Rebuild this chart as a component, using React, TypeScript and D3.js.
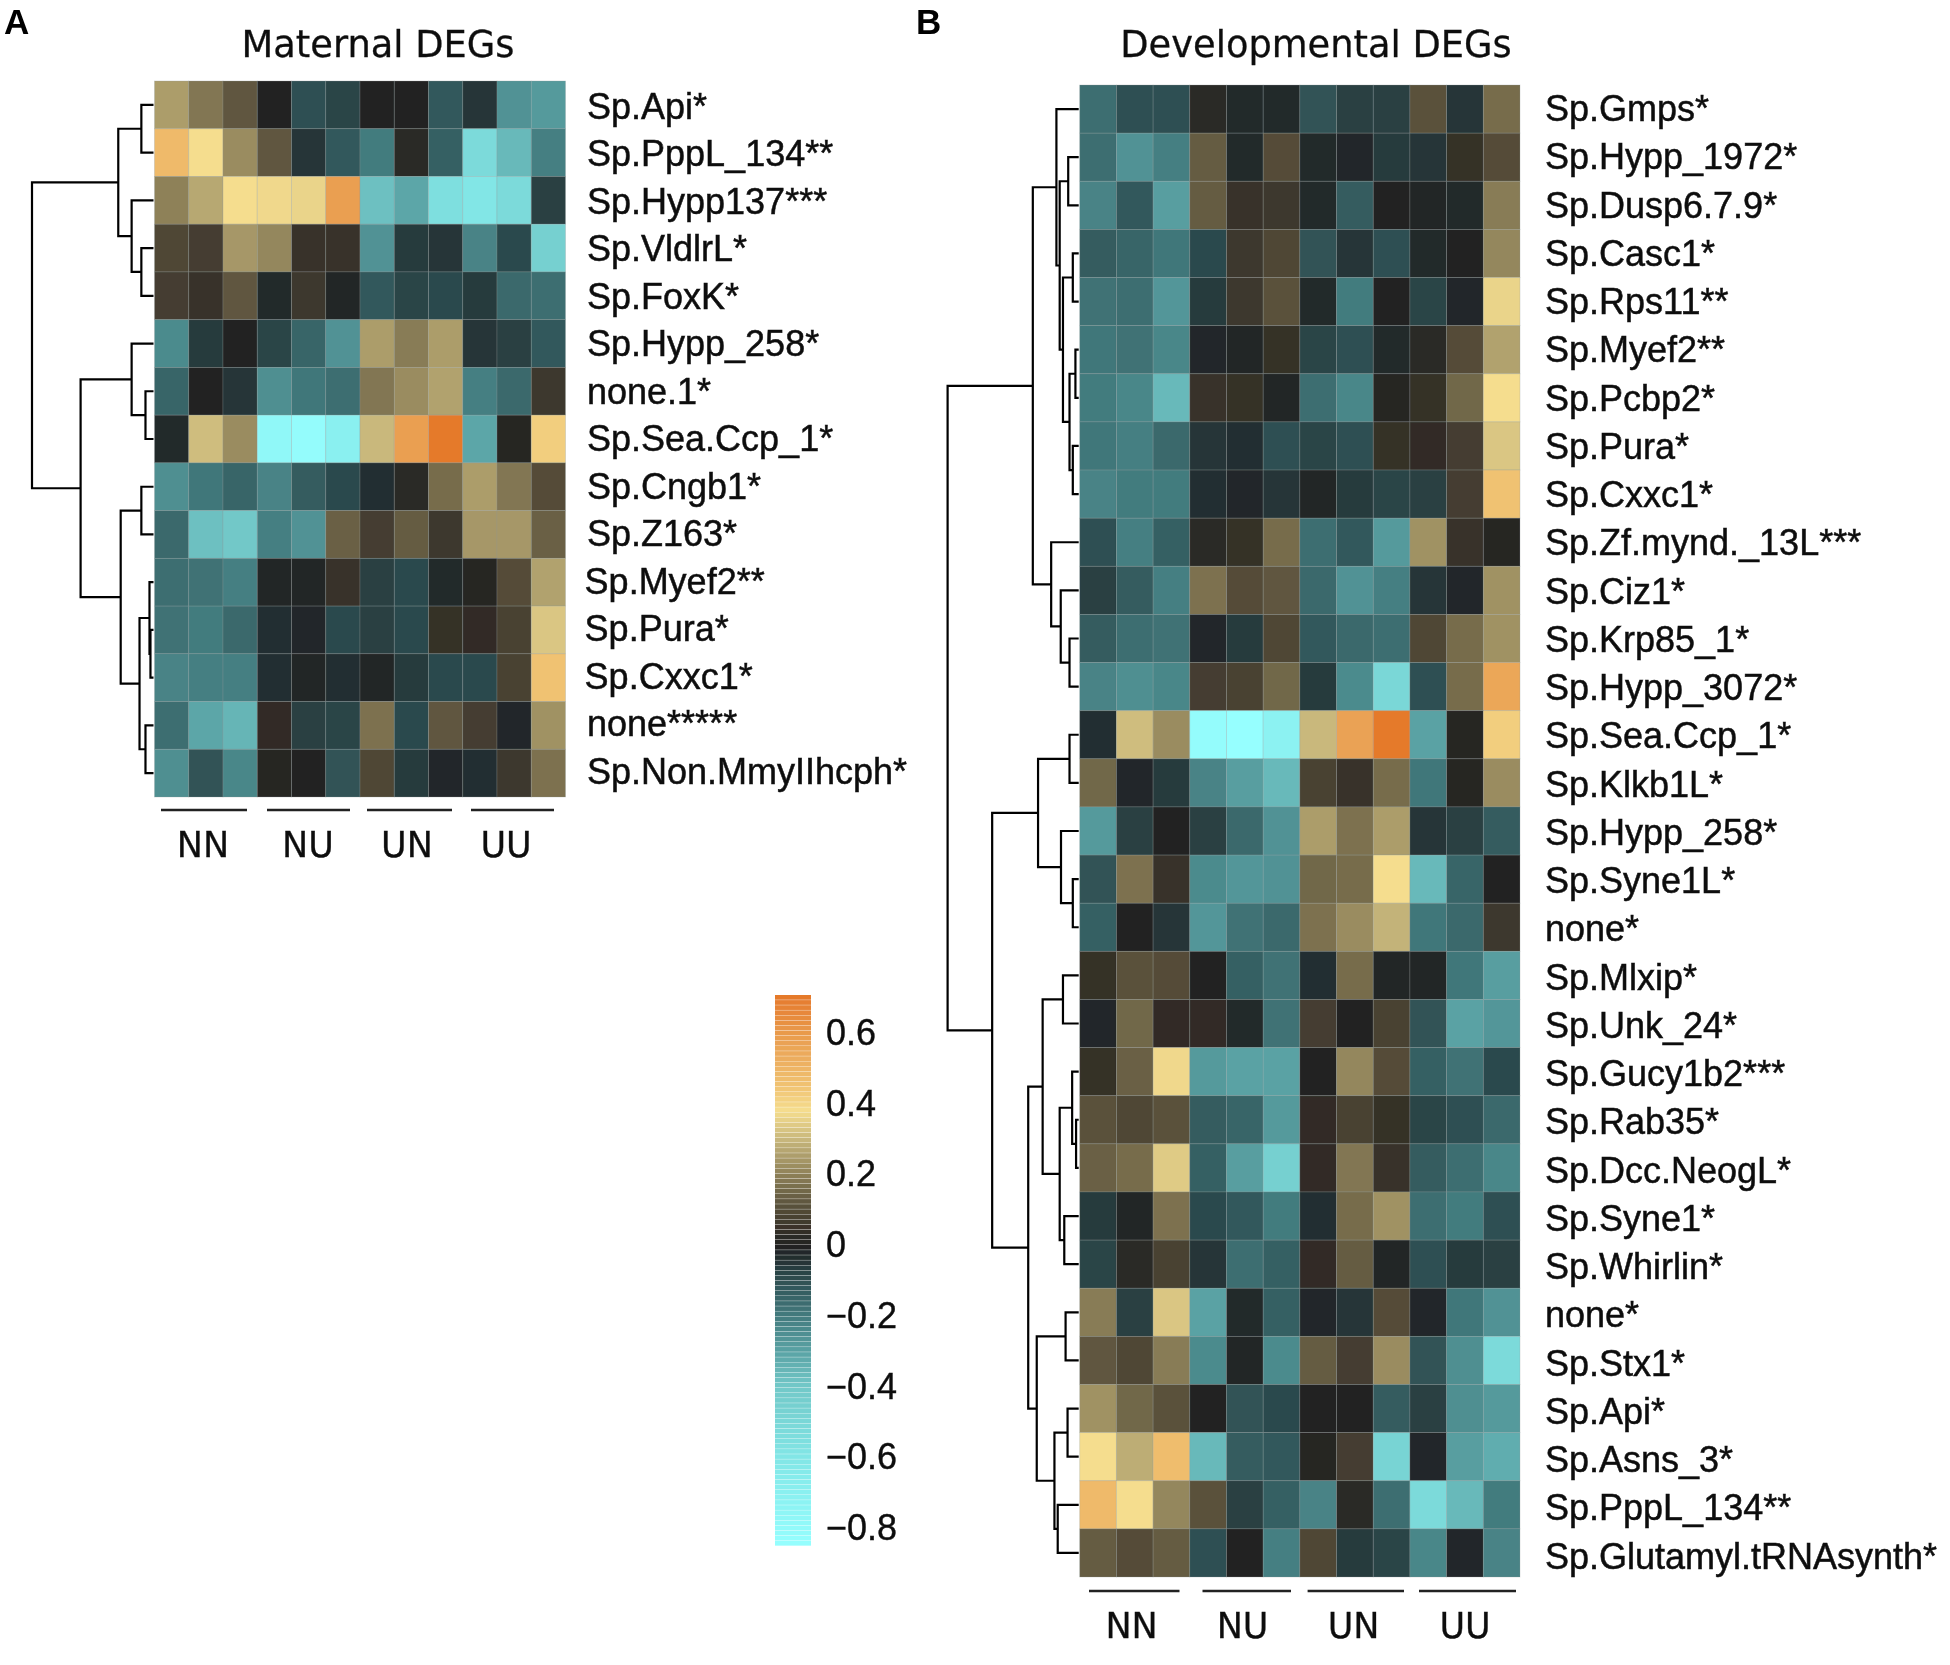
import * as d3 from "d3";

// --- panel A ---
const maternalGenes = [
  "Sp.Api*", "Sp.PppL_134**", "Sp.Hypp137***", "Sp.VldlrL*", "Sp.FoxK*",
  "Sp.Hypp_258*", "none.1*", "Sp.Sea.Ccp_1*", "Sp.Cngb1*", "Sp.Z163*",
  "Sp.Myef2**", "Sp.Pura*", "Sp.Cxxc1*", "none*****", "Sp.Non.MmyIIhcph*",
];
const maternalValues = [
  [0.25, 0.18, 0.12, 0, -0.1, -0.08, 0, 0, -0.12, -0.05, -0.26, -0.28],
  [0.48, 0.38, 0.22, 0.12, -0.05, -0.12, -0.2, 0.02, -0.14, -0.52, -0.36, -0.21],
  [0.2, 0.27, 0.38, 0.37, 0.36, 0.58, -0.38, -0.31, -0.55, -0.6, -0.52, -0.07],
  [0.09, 0.07, 0.24, 0.21, 0.05, 0.05, -0.26, -0.06, -0.05, -0.22, -0.09, -0.45],
  [0.07, 0.05, 0.12, -0.03, 0.06, -0.01, -0.12, -0.08, -0.09, -0.06, -0.16, -0.17],
  [-0.24, -0.06, 0, -0.08, -0.15, -0.26, 0.25, 0.19, 0.25, -0.05, -0.07, -0.12],
  [-0.15, 0, -0.05, -0.25, -0.19, -0.17, 0.18, 0.22, 0.26, -0.21, -0.16, 0.06],
  [-0.03, 0.31, 0.22, -0.78, -0.82, -0.7, 0.3, 0.58, 0.7, -0.31, 0.01, 0.42],
  [-0.25, -0.19, -0.15, -0.22, -0.13, -0.09, -0.04, 0.02, 0.16, 0.25, 0.18, 0.1],
  [-0.16, -0.38, -0.4, -0.21, -0.26, 0.14, 0.07, 0.13, 0.06, 0.24, 0.24, 0.14],
  [-0.17, -0.18, -0.21, -0.01, -0.01, 0.05, -0.07, -0.09, -0.03, 0.01, 0.1, 0.26],
  [-0.18, -0.2, -0.16, -0.04, -0.02, -0.09, -0.07, -0.09, 0.04, 0.03, 0.08, 0.33],
  [-0.22, -0.21, -0.21, -0.04, -0.01, -0.04, -0.01, -0.06, -0.09, -0.09, 0.08, 0.45],
  [-0.17, -0.31, -0.35, 0.03, -0.07, -0.08, 0.17, -0.09, 0.12, 0.07, -0.02, 0.23],
  [-0.25, -0.11, -0.23, 0.01, 0, -0.11, 0.09, -0.06, -0.02, -0.04, 0.06, 0.17],
];
// dendrogram: [merge height, left, right], leaves are row indices
const maternalTree = [1, [0.29, [0.1, 0, 1], [0.18, 2, [0.1, 3, 4]]],
  [0.6, [0.18, 5, [0.066, 6, 7]],
    [0.27, [0.1, 8, 9], [0.115, [0.033, 10, [0.025, 11, 12]], [0.066, 13, 14]]]]];
// these three labels sit a little left of the others in the figure
const maternalShifted = [10, 11, 12];

// --- panel B ---
const devGenes = [
  "Sp.Gmps*", "Sp.Hypp_1972*", "Sp.Dusp6.7.9*", "Sp.Casc1*", "Sp.Rps11**", "Sp.Myef2**",
  "Sp.Pcbp2*", "Sp.Pura*", "Sp.Cxxc1*", "Sp.Zf.mynd._13L***", "Sp.Ciz1*", "Sp.Krp85_1*",
  "Sp.Hypp_3072*", "Sp.Sea.Ccp_1*", "Sp.Klkb1L*", "Sp.Hypp_258*", "Sp.Syne1L*", "none*",
  "Sp.Mlxip*", "Sp.Unk_24*", "Sp.Gucy1b2***", "Sp.Rab35*", "Sp.Dcc.NeogL*", "Sp.Syne1*",
  "Sp.Whirlin*", "none*", "Sp.Stx1*", "Sp.Api*", "Sp.Asns_3*", "Sp.PppL_134**",
  "Sp.Glutamyl.tRNAsynth*",
];
const devValues = [
  [-0.17, -0.1, -0.1, 0.02, -0.03, -0.03, -0.11, -0.07, -0.07, 0.11, -0.05, 0.16],
  [-0.17, -0.26, -0.21, 0.13, -0.03, 0.1, -0.03, -0.02, -0.06, -0.05, 0.04, 0.1],
  [-0.22, -0.12, -0.29, 0.13, 0.05, 0.06, -0.03, -0.13, 0, -0.01, -0.03, 0.19],
  [-0.13, -0.15, -0.19, -0.09, 0.06, 0.09, -0.11, -0.05, -0.1, -0.03, 0, 0.21],
  [-0.18, -0.17, -0.27, -0.06, 0.06, 0.11, -0.03, -0.2, 0, -0.08, -0.02, 0.36],
  [-0.19, -0.18, -0.23, -0.02, -0.01, 0.04, -0.08, -0.1, -0.03, 0.02, 0.1, 0.26],
  [-0.2, -0.23, -0.36, 0.05, 0.04, -0.01, -0.17, -0.23, 0.01, 0.04, 0.15, 0.38],
  [-0.19, -0.21, -0.16, -0.05, -0.04, -0.1, -0.08, -0.1, 0.04, 0.03, 0.07, 0.33],
  [-0.22, -0.2, -0.2, -0.04, -0.02, -0.05, -0.01, -0.06, -0.08, -0.07, 0.07, 0.45],
  [-0.1, -0.21, -0.14, 0.02, 0.04, 0.16, -0.17, -0.12, -0.28, 0.23, 0.05, 0.01],
  [-0.07, -0.13, -0.21, 0.17, 0.1, 0.12, -0.16, -0.26, -0.21, -0.05, -0.02, 0.23],
  [-0.13, -0.17, -0.18, -0.02, -0.06, 0.09, -0.12, -0.16, -0.17, 0.09, 0.16, 0.23],
  [-0.22, -0.25, -0.23, 0.07, 0.08, 0.15, -0.06, -0.24, -0.5, -0.1, 0.16, 0.55],
  [-0.04, 0.31, 0.22, -0.82, -0.85, -0.72, 0.3, 0.57, 0.7, -0.3, 0.01, 0.42],
  [0.15, -0.02, -0.06, -0.22, -0.29, -0.36, 0.08, 0.05, 0.16, -0.19, 0.01, 0.22],
  [-0.28, -0.07, 0, -0.07, -0.16, -0.26, 0.25, 0.17, 0.25, -0.05, -0.07, -0.13],
  [-0.11, 0.17, 0.05, -0.24, -0.27, -0.26, 0.15, 0.16, 0.38, -0.36, -0.15, 0],
  [-0.14, 0, -0.05, -0.27, -0.18, -0.16, 0.17, 0.22, 0.29, -0.19, -0.16, 0.06],
  [0.04, 0.11, 0.1, 0, -0.14, -0.18, -0.04, 0.16, -0.01, -0.01, -0.19, -0.29],
  [-0.02, 0.15, 0.03, 0.03, -0.03, -0.18, 0.07, 0, 0.08, -0.11, -0.3, -0.27],
  [0.04, 0.14, 0.37, -0.28, -0.3, -0.3, 0, 0.21, 0.1, -0.14, -0.18, -0.09],
  [0.11, 0.09, 0.11, -0.13, -0.15, -0.28, 0.03, 0.08, 0.04, -0.08, -0.1, -0.16],
  [0.14, 0.16, 0.34, -0.14, -0.29, -0.45, 0.03, 0.18, 0.05, -0.13, -0.17, -0.23],
  [-0.06, -0.01, 0.17, -0.09, -0.12, -0.2, -0.04, 0.16, 0.23, -0.17, -0.2, -0.1],
  [-0.08, 0.02, 0.08, -0.05, -0.17, -0.14, 0.03, 0.13, -0.01, -0.1, -0.06, -0.07],
  [0.19, -0.07, 0.33, -0.3, -0.03, -0.14, -0.02, -0.05, 0.1, -0.02, -0.19, -0.26],
  [0.12, 0.09, 0.19, -0.24, -0.01, -0.24, 0.13, 0.07, 0.22, -0.11, -0.25, -0.52],
  [0.23, 0.15, 0.11, 0, -0.11, -0.09, 0, 0, -0.13, -0.07, -0.25, -0.28],
  [0.38, 0.28, 0.47, -0.36, -0.13, -0.12, 0.01, 0.07, -0.48, -0.02, -0.29, -0.33],
  [0.48, 0.38, 0.21, 0.11, -0.07, -0.14, -0.22, 0.02, -0.17, -0.52, -0.36, -0.2],
  [0.13, 0.1, 0.13, -0.1, 0, -0.21, 0.09, -0.06, -0.08, -0.23, -0.02, -0.22],
];
const devTree = [1,
  [0.35,
    [0.17, 0, [0.145, [0.08, 1, 2], [0.12, [0.045, 3, 4], [0.07, [0.025, 5, 6], [0.045, 7, 8]]]]],
    [0.21, 9, [0.137, 10, [0.07, 11, 12]]]],
  [0.66,
    [0.31, [0.07, 13, 14], [0.135, 15, [0.045, 16, 17]]],
    [0.385,
      [0.275, [0.12, 18, 19], [0.145, [0.05, 20, [0.02, 21, 22]], [0.11, 23, 24]]],
      [0.32, [0.1, 25, 26], [0.185, [0.085, 27, 28], [0.16, 29, 30]]]]]];

// --- shared ---
const groups = ["NN", "NU", "UN", "UU"];
const colorTicks = [0.6, 0.4, 0.2, 0, -0.2, -0.4, -0.6, -0.8];
const colorStops = [-0.85, -0.6, -0.4, -0.3, -0.2, -0.1, -0.03, 0, 0.05, 0.1, 0.2, 0.3, 0.38, 0.45, 0.6, 0.7];
const colorRange = [
  "#96ffff", "#82e6e6", "#72c8c8", "#5aa2a4", "#437b7e", "#2e4f52", "#222a2c", "#222222",
  "#39332a", "#544c38", "#8e8159", "#c9b87c", "#f5dd8e", "#f0c272", "#e99a4c", "#e57a2c",
];

const color = d3.scaleLinear<string>().domain(colorStops).range(colorRange).clamp(true);

const sans = "'Liberation Sans', Arial, sans-serif";
const dejavu = "'DejaVu Sans', sans-serif";
const ink = "#111";

function dendroPath(tree: any, yOf: (i: number) => number, xOf: (h: number) => number, leafX: number) {
  const path = d3.path();
  const walk = (node: any): { x: number; y: number } => {
    if (typeof node === "number") return { x: leafX, y: yOf(node) };
    const [h, l, r] = node;
    const a = walk(l);
    const b = walk(r);
    const x = xOf(h);
    path.moveTo(a.x, a.y);
    path.lineTo(x, a.y);
    path.lineTo(x, b.y);
    path.lineTo(b.x, b.y);
    return { x, y: (a.y + b.y) / 2 };
  };
  walk(tree);
  return path.toString();
}

interface HeatProps {
  genes: string[];
  values: number[][];
  tree: any;
  x0: number; x1: number; y0: number; y1: number;
  treeX: number;
  labelX: number;
  labelY: number[];
  shifted?: number[];
  title: string; titleX: number;
  bars: number[][]; barY: number;
  groupX: number[]; groupY: number;
}

function Heatmap(p: HeatProps) {
  const xScale = d3.scaleBand<number>().domain(d3.range(12)).range([p.x0, p.x1]);
  const yScale = d3.scaleBand<number>().domain(d3.range(p.genes.length)).range([p.y0, p.y1]);
  const labelScale = d3.scalePoint<number>().domain(d3.range(p.genes.length)).range(p.labelY as [number, number]);
  const treeScale = d3.scaleLinear().domain([0, 1]).range([p.x0 - 1, p.treeX]);
  const rowY = (i: number) => (yScale(i) ?? 0) + yScale.bandwidth() / 2;
  return (
    <g>
      <text x={p.titleX} y={57} textAnchor="middle" fontFamily={dejavu} fontSize={36.8} fill={ink} stroke={ink} strokeWidth={0.3}>{p.title}</text>
      <path d={dendroPath(p.tree, rowY, treeScale, p.x0 - 1)} fill="none" stroke="#000" strokeWidth={2.2} />
      {p.values.map((row, r) =>
        row.map((v, c) => (
          <rect key={`${r}-${c}`} x={xScale(c)} y={yScale(r)} width={xScale.bandwidth()} height={yScale.bandwidth()}
            fill={color(v)} stroke="#8f9a9a" strokeOpacity={0.35} strokeWidth={0.8} />
        ))
      )}
      {p.genes.map((g, i) => (
        <text key={i} x={p.labelX - (p.shifted?.includes(i) ? 2.4 : 0)} y={labelScale(i)}
          fontFamily={sans} fontSize={36} fill={ink} stroke={ink} strokeWidth={0.5}>{g}</text>
      ))}
      {groups.map((g, i) => (
        <g key={g}>
          <line x1={p.bars[i][0]} x2={p.bars[i][1]} y1={p.barY} y2={p.barY} stroke="#222" strokeWidth={2.6} />
          <text x={p.groupX[i]} y={p.groupY} textAnchor="middle" fontFamily={dejavu} fontSize={35} fill={ink} stroke={ink} strokeWidth={0.3}>{g}</text>
        </g>
      ))}
    </g>
  );
}

function ColorBar() {
  const y = d3.scaleLinear().domain([0.6, -0.8]).range([1033, 1528]);
  const bands = d3.scaleBand<number>().domain(d3.range(108)).range([1546, 995]);
  return (
    <g>
      {bands.domain().map((i) => {
        const top = bands(i) ?? 0;
        return (
          <rect key={i} x={775} width={36} y={top} height={bands.bandwidth() - 0.35}
            fill={color(y.invert(top + bands.bandwidth() / 2))} />
        );
      })}
      {colorTicks.map((t) => (
        <text key={t} x={826} y={y(t) + 12} fontFamily={sans} fontSize={36} fill={ink} stroke={ink} strokeWidth={0.4}>
          {t === 0 ? "0" : d3.format(".1f")(t).replace("-", "\u2212")}
        </text>
      ))}
    </g>
  );
}

export default function App() {
  return (
    <svg width={1950} height={1665} style={{ position: "absolute", left: 0, top: 0, background: "#fff" }}>
      <defs>
        <filter id="soft" x="0" y="0" width="100%" height="100%">
          <feGaussianBlur stdDeviation={0.6} />
        </filter>
      </defs>
      <g filter="url(#soft)">
        <rect width={1950} height={1665} fill="#fff" />
        <text x={4} y={34} fontFamily={sans} fontWeight="bold" fontSize={35} fill="#000">A</text>
        <text x={916} y={34} fontFamily={sans} fontWeight="bold" fontSize={35} fill="#000">B</text>
        <Heatmap genes={maternalGenes} values={maternalValues} tree={maternalTree}
          x0={154.5} x1={565.5} y0={81} y1={797} treeX={32} labelX={587} labelY={[119, 783.5]}
          shifted={maternalShifted}
          title="Maternal DEGs" titleX={378}
          bars={[[161, 247], [267, 350], [367, 452], [471, 554]]} barY={810}
          groupX={[203, 308, 407, 506]} groupY={857} />
        <Heatmap genes={devGenes} values={devValues} tree={devTree}
          x0={1079.7} x1={1520} y0={85} y1={1577} treeX={947.6} labelX={1545} labelY={[121, 1568.5]}
          title="Developmental DEGs" titleX={1316}
          bars={[[1089, 1179.5], [1202.5, 1291], [1307.6, 1404], [1419, 1516]]} barY={1591}
          groupX={[1131.6, 1242.6, 1353.6, 1465]} groupY={1638} />
        <ColorBar />
      </g>
    </svg>
  );
}
